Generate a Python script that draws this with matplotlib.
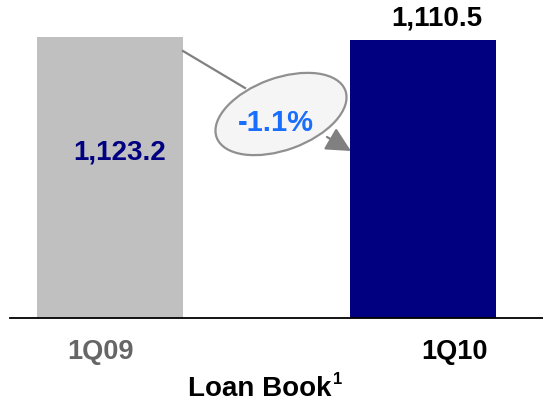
import matplotlib.pyplot as plt
from matplotlib.patches import Ellipse
from matplotlib.transforms import IdentityTransform

plt.rcParams['font.family'] = ['Liberation Sans', 'DejaVu Sans']

# Data
periods = ['1Q09', '1Q10']
loan_book = [1123.2, 1110.5]
change_label = '-1.1%'
bar_colors = ['#c0c0c0', '#000080']
tick_colors = ['#666666', '#000000']

W, H = 543, 405
fig = plt.figure(figsize=(W / 100, H / 100), dpi=100)
# axes spans from x=10px to right edge, baseline at y=318px
ax = fig.add_axes([10 / W, 87 / H, 533 / W, 318 / H])
ax.set_xlim(-100 / 313, 1 + 120 / 313)
ax.set_ylim(0, loan_book[1] * 318 / 278)

x = list(range(len(periods)))
ax.bar(x, loan_book, width=146 / 313, color=bar_colors, zorder=2)

for s in ['top', 'right', 'left']:
    ax.spines[s].set_visible(False)
ax.spines['bottom'].set_linewidth(1.3)
ax.spines['bottom'].set_color('black')
ax.set_yticks([])
ax.set_xticks([])

# category labels (slightly offset from bar centres, as in the original)
label_shift = [-0.03, 0.10]
for xi, name, c, dx in zip(x, periods, tick_colors, label_shift):
    ax.text(xi + dx, -0.123 * loan_book[1], name, ha='center', va='center',
            fontsize=19.5, fontweight='bold', color=c)

# value labels
ax.text(x[0] + 0.03, loan_book[0] * 0.59, '{:,.1f}'.format(loan_book[0]),
        ha='center', va='center', fontsize=20, fontweight='bold', color='#000080')
ax.text(x[1] + 0.045, loan_book[1] * 1.03, '{:,.1f}'.format(loan_book[1]),
        ha='center', va='bottom', fontsize=20, fontweight='bold', color='black')

# change bubble (pixel coordinates)
px = IdentityTransform()
fig.patches.append(Ellipse((281, H - 114), 137, 72, angle=20, transform=px,
                           facecolor='#f5f5f5', edgecolor='#909090', lw=1.6,
                           zorder=3))
fig.add_artist(plt.Line2D([183, 245], [H - 51, H - 88], transform=px,
                          color='#808080', lw=1.6))
ax.annotate('', xy=(351, H - 151), xytext=(327, H - 137),
            xycoords='figure pixels', textcoords='figure pixels',
            arrowprops=dict(arrowstyle='-|>,head_length=0.75,head_width=0.38',
                            color='#808080', lw=1.6,
                            mutation_scale=20, shrinkA=0, shrinkB=0))
fig.text(276 / W, 1 - 123 / H, change_label, ha='center', va='center',
         fontsize=21, fontweight='bold', color='#1a6eff', zorder=5)

# title with superscript footnote mark
title = fig.text(188 / W, 1 - 396 / H, 'Loan Book', ha='left',
                 va='baseline', fontsize=20, fontweight='bold', color='black')
bb = title.get_window_extent(fig.canvas.get_renderer())
fig.text((bb.x1 + 1) / W, 1 - 372 / H, '1', ha='left', va='top',
         fontsize=12, fontweight='bold', color='black')

fig.savefig('out.png', dpi=100)
